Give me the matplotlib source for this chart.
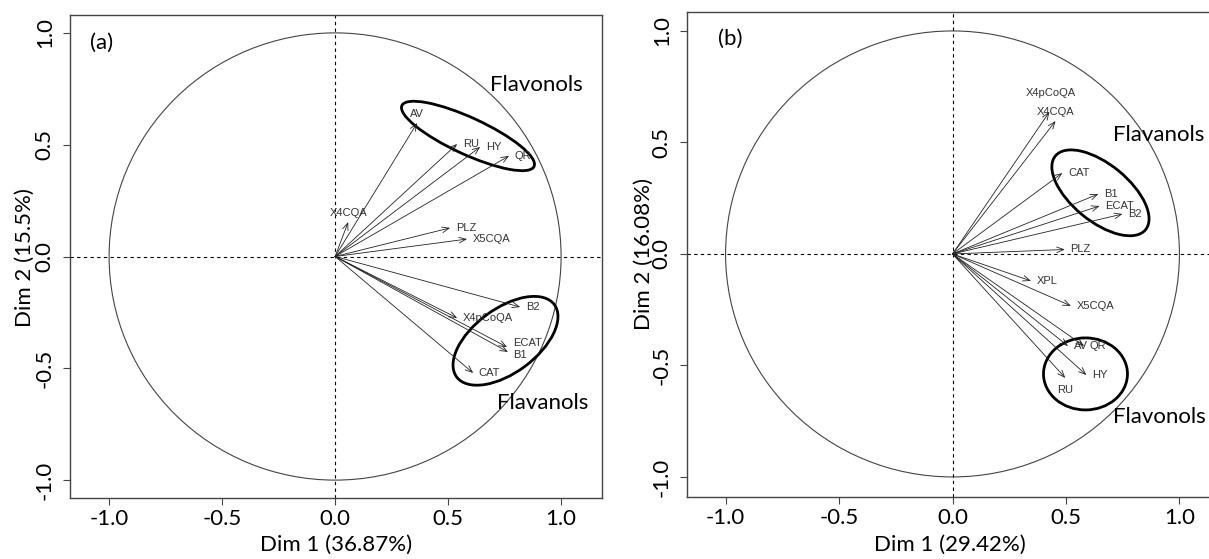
import matplotlib
matplotlib.use('Agg')
import matplotlib.pyplot as plt
from matplotlib.patches import Circle, Ellipse

# PCA variable loadings, panel (a)
vars_a = ['AV', 'RU', 'HY', 'QR', 'X4CQA', 'PLZ', 'X5CQA',
          'B2', 'X4pCoQA', 'ECAT', 'B1', 'CAT']
dim1_a = [0.363, 0.540, 0.642, 0.770, 0.058, 0.509, 0.584,
          0.819, 0.540, 0.761, 0.765, 0.611]
dim2_a = [0.597, 0.503, 0.490, 0.450, 0.154, 0.128, 0.078,
          -0.226, -0.275, -0.405, -0.427, -0.521]

# PCA variable loadings, panel (b)
vars_b = ['X4pCoQA', 'X4CQA', 'CAT', 'B1', 'ECAT', 'B2', 'PLZ',
          'XPL', 'X5CQA', 'AV', 'QR', 'HY', 'RU']
dim1_b = [0.427, 0.454, 0.484, 0.643, 0.648, 0.749, 0.495,
          0.346, 0.522, 0.509, 0.580, 0.590, 0.497]
dim2_b = [0.637, 0.596, 0.363, 0.269, 0.215, 0.179, 0.020,
          -0.121, -0.233, -0.413, -0.413, -0.543, -0.556]

axis_labels_a = ('Dim 1 (36.87%)', 'Dim 2 (15.5%)')
axis_labels_b = ('Dim 1 (29.42%)', 'Dim 2 (16.08%)')
ticks = [-1.0, -0.5, 0.0, 0.5, 1.0]

BIG = 'Lato'
SMALL = 'Liberation Sans'

# label placement: (dx, dy) in points and alignment
place_a = {'AV': (0, 3, 'center', 'bottom'), 'X4CQA': (0, 3, 'center', 'bottom'),
           'ECAT': (4, 3, 'left', 'center'), 'B1': (4, -2, 'left', 'center')}
place_b = {'X4pCoQA': (1, 10, 'center', 'bottom'), 'X4CQA': (0, 3, 'center', 'bottom'),
           'RU': (0, -5, 'center', 'top')}


def draw_panel(ax, names, xs, ys, place, ylims, xlims):
    ax.set_xlim(*xlims)
    ax.set_ylim(*ylims)
    ax.add_patch(Circle((0, 0), 1, fill=False, color='#444444', lw=0.8))
    ax.axhline(0, color='black', lw=0.8, ls=(0, (3, 3)))
    ax.axvline(0, color='black', lw=0.8, ls=(0, (3, 3)))
    for n, x, y in zip(names, xs, ys):
        ax.annotate('', xy=(x, y), xytext=(0, 0),
                    arrowprops=dict(arrowstyle='->,head_length=0.5,head_width=0.2',
                                    color='#222222', lw=0.6, shrinkA=0, shrinkB=0))
        dx, dy, ha, va = place.get(n, (4, 0, 'left', 'center'))
        ax.annotate(n, xy=(x, y), xytext=(dx, dy), textcoords='offset points',
                    ha=ha, va=va, fontsize=8, color='#333333', family=SMALL)
    ax.set_xticks(ticks)
    ax.set_yticks(ticks)
    ax.set_xticklabels(['%.1f' % t for t in ticks], family=BIG, fontsize=16)
    ax.set_yticklabels(['%.1f' % t for t in ticks], family=BIG, fontsize=16,
                       rotation=90, va='center')
    ax.tick_params(axis='x', length=5, pad=3, color='#444444')
    ax.tick_params(axis='y', length=5, pad=6, color='#444444')
    for s in ax.spines.values():
        s.set_color('#444444')
        s.set_linewidth(1)


def note(ax, x, y, s):
    ax.text(x, y, s, family=BIG, fontsize=16, ha='left', va='center')


fig = plt.figure(figsize=(12.09, 5.59), dpi=100)

ax1 = fig.add_axes([70 / 1209, 61 / 559, 532 / 1209, 483 / 559])
draw_panel(ax1, vars_a, dim1_a, dim2_a, place_a, (-1.08, 1.08), (-1.173, 1.181))
ax1.add_patch(Ellipse((0.588, 0.539), 0.645, 0.164, angle=-25,
                      fill=False, color='black', lw=2))
ax1.add_patch(Ellipse((0.754, -0.377), 0.54, 0.286, angle=37,
                      fill=False, color='black', lw=2))
note(ax1, 0.686, 0.767, 'Flavonols')
note(ax1, 0.717, -0.655, 'Flavanols')
note(ax1, -1.084, 0.955, '(a)')

ax2 = fig.add_axes([687 / 1209, 62 / 559, 531 / 1209, 485 / 559])
draw_panel(ax2, vars_b, dim1_b, dim2_b, place_b, (-1.09, 1.085), (-1.17, 1.17))
ax2.add_patch(Ellipse((0.652, 0.274), 0.517, 0.254, angle=-40,
                      fill=False, color='black', lw=2))
ax2.add_patch(Ellipse((0.586, -0.538), 0.37, 0.323, angle=0,
                      fill=False, color='black', lw=2))
note(ax2, 0.709, 0.534, 'Flavanols')
note(ax2, 0.709, -0.731, 'Flavonols')
note(ax2, -1.035, 0.964, '(b)')

# axis titles
fig.text(336 / 1209, 1 - 545 / 559, axis_labels_a[0], family=BIG, fontsize=16,
         ha='center', va='center')
fig.text(25 / 1209, 1 - 258 / 559, axis_labels_a[1], family=BIG, fontsize=16,
         ha='center', va='center', rotation=90)
fig.text(950 / 1209, 1 - 545 / 559, axis_labels_b[0], family=BIG, fontsize=16,
         ha='center', va='center')
fig.text(644 / 1209, 1 - 254 / 559, axis_labels_b[1], family=BIG, fontsize=16,
         ha='center', va='center', rotation=90)

fig.savefig('out.png', dpi=100)
